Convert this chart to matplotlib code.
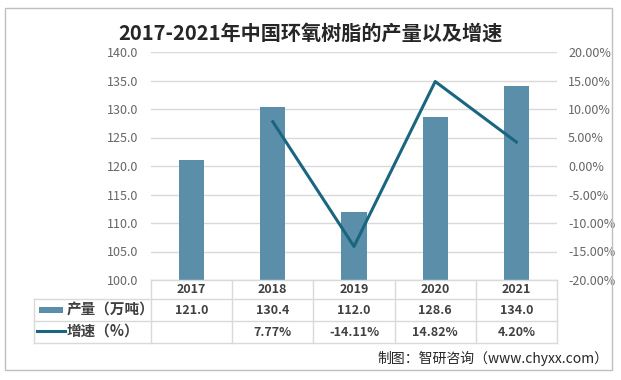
import matplotlib
matplotlib.use("Agg")
import matplotlib.pyplot as plt
from matplotlib.lines import Line2D
from matplotlib.patches import Rectangle
from matplotlib.ticker import FuncFormatter, MultipleLocator

plt.rcParams['font.family'] = ['Noto Sans CJK SC', 'DejaVu Sans']

title = "2017-2021年中国环氧树脂的产量以及增速"
years = ["2017", "2018", "2019", "2020", "2021"]
output = [121.0, 130.4, 112.0, 128.6, 134.0]
growth = [None, 7.77, -14.11, 14.82, 4.20]
bar_label = "产量（万吨）"
line_label = "增速（%）"
source = "制图：智研咨询（www.chyxx.com）"

W, H = 621, 380
BAR_C = "#5B8FA9"
LINE_C = "#1A6580"
GRID_C = "#D9D9D9"
TICK_C = "#666666"

fig = plt.figure(figsize=(W / 100, H / 100), dpi=100)

def fx(x):
    return x / W

def fy(y):
    return 1 - y / H

# outer frame
fig.add_artist(Rectangle((fx(5), fy(370)), fx(607), 362 / H, transform=fig.transFigure,
                         fill=False, edgecolor="#BFBFBF", lw=1))

L, R, T, B = 151, 557, 52, 280
ax = fig.add_axes([fx(L), fy(B), (R - L) / W, (B - T) / H])
x = list(range(len(years)))
ax.bar(x, output, width=0.31, color=BAR_C, zorder=2)
ax.set_xlim(-0.5, len(years) - 0.5)
ax.set_ylim(100, 140)
ax.yaxis.set_major_locator(MultipleLocator(5))
ax.yaxis.set_major_formatter(FuncFormatter(lambda v, p: f"{v:.1f}"))
ax.grid(axis="y", color=GRID_C, lw=1, zorder=0)
ax.set_xticks([])
for s in ax.spines.values():
    s.set_visible(False)
ax.tick_params(axis="y", length=0, pad=9, labelsize=9, labelcolor=TICK_C)

ax2 = ax.twinx()
gx = [i for i, g in zip(x, growth) if g is not None]
gy = [g for g in growth if g is not None]
ax2.plot(gx, gy, color=LINE_C, lw=2.2, zorder=3)
ax2.set_ylim(-20, 20)
ax2.yaxis.set_major_locator(MultipleLocator(5))
ax2.yaxis.set_major_formatter(FuncFormatter(lambda v, p: f"{v:.2f}%"))
for s in ax2.spines.values():
    s.set_visible(False)
ax2.tick_params(axis="y", length=0, pad=8, labelsize=9, labelcolor=TICK_C)

# data table
colw = (R - L) / len(years)
rows = [280, 299, 321, 343]
TL = 34
def hline(y, x0, x1):
    fig.add_artist(Line2D([fx(x0), fx(x1)], [fy(y), fy(y)], transform=fig.transFigure,
                          color=GRID_C, lw=1))
def vline(xp, y0, y1):
    fig.add_artist(Line2D([fx(xp), fx(xp)], [fy(y0), fy(y1)], transform=fig.transFigure,
                          color=GRID_C, lw=1))
hline(rows[0], L, R)
for yy in rows[1:]:
    hline(yy, TL, R)
vline(TL, rows[1], rows[3])
for k in range(len(years) + 1):
    vline(L + k * colw, rows[0], rows[3])

tstyle = dict(ha="center", va="center", fontsize=9, fontweight="bold", color="#404040")
for i, yr in enumerate(years):
    cx = fx(L + (i + 0.5) * colw)
    fig.text(cx, fy((rows[0] + rows[1]) / 2), yr, **tstyle)
    fig.text(cx, fy((rows[1] + rows[2]) / 2), f"{output[i]:.1f}", **tstyle)
    if growth[i] is not None:
        fig.text(cx, fy((rows[2] + rows[3]) / 2), f"{growth[i]:.2f}%", **tstyle)

# legend keys
fig.add_artist(Rectangle((fx(39), fy(313)), fx(24), 6 / H, transform=fig.transFigure,
                         facecolor=BAR_C, edgecolor="none"))
fig.add_artist(Line2D([fx(37), fx(65)], [fy(331), fy(331)], transform=fig.transFigure,
                      color=LINE_C, lw=2.2))
fig.text(fx(67), fy(310), bar_label, ha="left", va="center", fontsize=10.5,
         fontweight="bold", color="#404040")
fig.text(fx(67), fy(331), line_label, ha="left", va="center", fontsize=10.5,
         fontweight="bold", color="#404040")

fig.text(fx(310), fy(33), title, ha="center", va="center", fontsize=14.5,
         fontweight="bold", color="#262626")
fig.text(fx(608), fy(358), source, ha="right", va="center", fontsize=10, color="#262626")

fig.savefig("out.png", dpi=100)
